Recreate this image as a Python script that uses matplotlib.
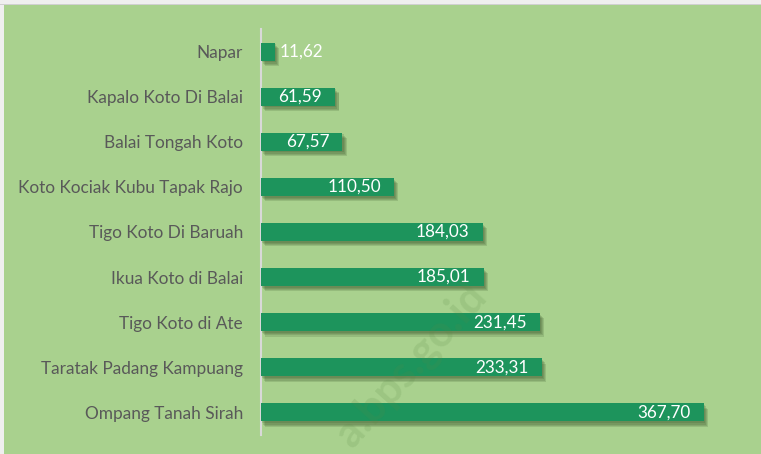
import matplotlib.pyplot as plt
import matplotlib.patheffects as pe
from matplotlib.patches import Rectangle

# data (top to bottom as in the chart)
nagari = ["Napar", "Kapalo Koto Di Balai", "Balai Tongah Koto",
          "Koto Kociak Kubu Tapak Rajo", "Tigo Koto Di Baruah",
          "Ikua Koto di Balai", "Tigo Koto di Ate",
          "Taratak Padang Kampuang", "Ompang Tanah Sirah"]
luas = [11.62, 61.59, 67.57, 110.50, 184.03, 185.01, 231.45, 233.31, 367.70]
label_txt = ["11,62", "61,59", "67,57", "110,50", "184,03",
             "185,01", "231,45", "233,31", "367,70"]

bg = "#a9d18e"
bar_col = "#1d945c"

plt.rcParams['font.family'] = ['Lato', 'DejaVu Sans']

W, H = 761, 454
fig = plt.figure(figsize=(W / 100, H / 100), dpi=100)
fig.patch.set_facecolor("#efefef")
# green chart area with thin light frame at top/left
fig.patches.append(Rectangle((4 / W, 0), 1, 1 - 5 / H, transform=fig.transFigure,
                             facecolor=bg, edgecolor="none", zorder=-2))
fig.patches.append(Rectangle((0, 1 - 5 / H), 1, 1 / H, transform=fig.transFigure,
                             facecolor="#d0d0d0", edgecolor="none", zorder=-2))

left, right = 261, 743
top, bottom = 29, 435
ax = fig.add_axes([left / W, 1 - bottom / H, (right - left) / W, (bottom - top) / H])
ax.set_facecolor("none")

y = list(range(len(nagari)))
bars = ax.barh(y, luas, height=0.4, color=bar_col, zorder=3)
# soft drop shadow, built from a few offset layers
shadow = [pe.SimplePatchShadow(offset=(dx, dy), shadow_rgbFace="#2f4a22", alpha=0.16)
          for dx, dy in [(0.8, -1.2), (1.6, -2.2), (2.4, -3.0), (3.0, -3.8)]]
for b in bars:
    b.set_path_effects(shadow + [pe.Normal()])

for i, (v, t) in enumerate(zip(luas, label_txt)):
    if v < 30:
        ax.annotate(t, (v, i), xytext=(3, 0), textcoords="offset points",
                    ha="left", va="center", color="white", fontsize=12.3, zorder=4)
    else:
        ax.annotate(t, (v, i), xytext=(-9.5, 0), textcoords="offset points",
                    ha="right", va="center", color="white", fontsize=12.3, zorder=4)

ax.set_xlim(0, 400)
ax.set_ylim(len(nagari) - 0.5, -0.5)
ax.set_yticks(y)
ax.set_yticklabels(nagari, fontsize=12.4, color="#595959")
ax.tick_params(axis="y", length=0, pad=13)
ax.set_xticks([])
for s in ["top", "right", "bottom"]:
    ax.spines[s].set_visible(False)
ax.spines["left"].set_color("#d9d9d9")
ax.spines["left"].set_linewidth(1.5)

# faint watermark
fig.text(352 / W, 1 - 449 / H, "a.bps.go.id", rotation=48, rotation_mode="anchor",
         ha="left", va="baseline", fontsize=31, fontweight="bold",
         color="#5a8a45", alpha=0.16, zorder=5)

fig.savefig("out.png", dpi=100, facecolor=fig.get_facecolor())
